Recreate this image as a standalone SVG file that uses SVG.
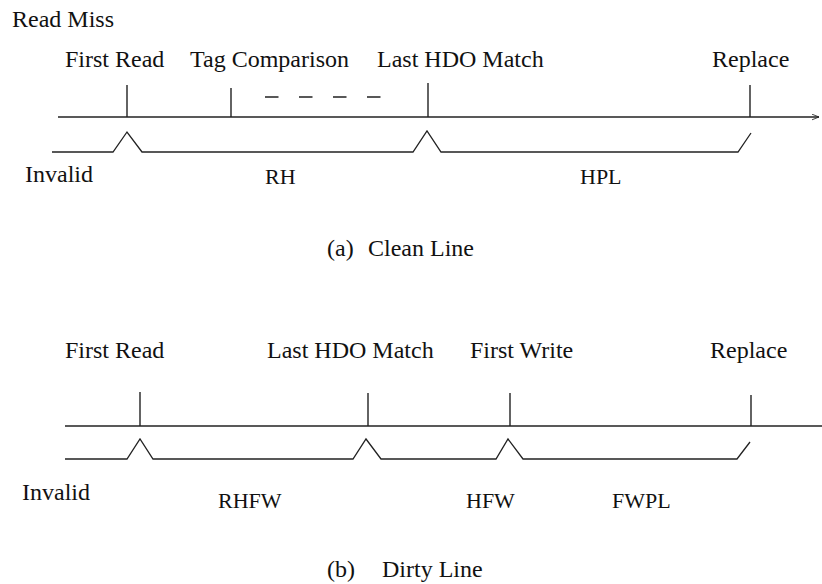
<svg xmlns="http://www.w3.org/2000/svg" width="822" height="584" viewBox="0 0 822 584">
  <style>
    text { font-family: "Liberation Serif", "Times New Roman", serif; fill: #111; }
    .ev { font-size: 24px; }
    .st { font-size: 22px; }
    .line { fill: none; stroke: #222; stroke-width: 1.3; }
    .tick { stroke: #222; stroke-width: 1.4; }
  </style>
  <defs>
    <marker id="arrow" viewBox="0 0 10 10" refX="10" refY="5" markerWidth="7" markerHeight="7" markerUnits="userSpaceOnUse" orient="auto">
      <path d="M0,1 L10,5 L0,9" fill="none" stroke="#222" stroke-width="1.2"/>
    </marker>
  </defs>

  <rect width="822" height="584" fill="#fff"/>

  <!-- (a) clean line timeline -->
  <g id="clean-line">
    <text class="ev" x="12" y="27">Read Miss</text>
    <g id="clean-events">
      <text class="ev" x="65" y="67">First Read</text>
      <text class="ev" x="190" y="67">Tag Comparison</text>
      <text class="ev" x="377" y="67">Last HDO Match</text>
      <text class="ev" x="712" y="67">Replace</text>
    </g>
    <g id="clean-axis">
      <path class="line" d="M58,117 H819" marker-end="url(#arrow)"/>
      <line class="tick" x1="127" y1="85" x2="127" y2="117"/>
      <line class="tick" x1="231" y1="88" x2="231" y2="117"/>
      <line class="tick" x1="428" y1="83" x2="428" y2="117"/>
      <line class="tick" x1="750" y1="85" x2="750" y2="117"/>
      <line class="line" x1="265" y1="97" x2="381" y2="97" stroke-dasharray="13.5 20.5"/>
    </g>
    <g id="clean-states">
      <path class="line" d="M52,152 H113 L127,132 L142,152 H413 L427,131 L441,152 H738 L751,133"/>
      <text class="ev" x="25" y="182">Invalid</text>
      <text class="st" x="265" y="184">RH</text>
      <text class="st" x="580" y="184">HPL</text>
    </g>
    <text class="ev" y="256"><tspan x="327">(a)</tspan><tspan x="368">Clean Line</tspan></text>
  </g>

  <!-- (b) dirty line timeline -->
  <g id="dirty-line">
    <g id="dirty-events">
      <text class="ev" x="65" y="358">First Read</text>
      <text class="ev" x="267" y="358">Last HDO Match</text>
      <text class="ev" x="470" y="358">First Write</text>
      <text class="ev" x="710" y="358">Replace</text>
    </g>
    <g id="dirty-axis">
      <path class="line" d="M65,426 H822"/>
      <line class="tick" x1="140" y1="392" x2="140" y2="426"/>
      <line class="tick" x1="368" y1="393" x2="368" y2="426"/>
      <line class="tick" x1="510" y1="393" x2="510" y2="426"/>
      <line class="tick" x1="751" y1="395" x2="751" y2="426"/>
    </g>
    <g id="dirty-states">
      <path class="line" d="M65,459 H127 L140,439 L153,459 H353 L366,439 L381,459 H496 L508,439 L523,459 H737 L750,442"/>
      <text class="ev" x="22" y="500">Invalid</text>
      <text class="st" x="218" y="508">RHFW</text>
      <text class="st" x="466" y="508">HFW</text>
      <text class="st" x="612" y="508">FWPL</text>
    </g>
    <text class="ev" y="577"><tspan x="327">(b)</tspan><tspan x="382">Dirty Line</tspan></text>
  </g>
</svg>
